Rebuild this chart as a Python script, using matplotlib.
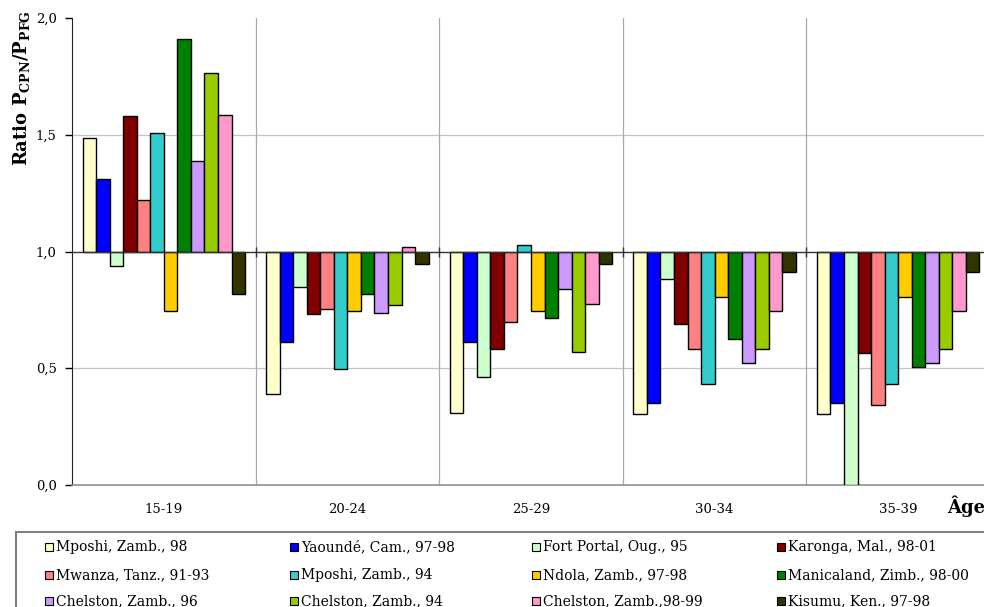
import matplotlib
matplotlib.use('Agg')
import matplotlib.pyplot as plt
from matplotlib.patches import Rectangle
import numpy as np

plt.rcParams['font.family'] = ['DejaVu Serif']
plt.rcParams['mathtext.fontset'] = 'dejavuserif'

# age groups
ages = ['15-19', '20-24', '25-29', '30-34', '35-39']

# series (ratio values per age group)
series = [
    'Mposhi, Zamb., 98', 'Yaoundé, Cam., 97-98', 'Fort Portal, Oug., 95', 'Karonga, Mal., 98-01',
    'Mwanza, Tanz., 91-93', 'Mposhi, Zamb., 94', 'Ndola, Zamb., 97-98', 'Manicaland, Zimb., 98-00',
    'Chelston, Zamb., 96', 'Chelston, Zamb., 94', 'Chelston, Zamb.,98-99', 'Kisumu, Ken., 97-98',
]
mposhi_98 = [1.485, 0.390, 0.310, 0.304, 0.304]
yaounde = [1.309, 0.611, 0.611, 0.352, 0.352]
fort_portal = [0.936, 0.848, 0.461, 0.881, 0.0]
karonga = [1.580, 0.732, 0.581, 0.688, 0.564]
mwanza = [1.220, 0.754, 0.697, 0.581, 0.343]
mposhi_94 = [1.509, 0.497, 1.026, 0.434, 0.434]
ndola = [0.745, 0.746, 0.745, 0.805, 0.805]
manicaland = [1.911, 0.818, 0.715, 0.627, 0.504]
chelston_96 = [1.389, 0.735, 0.838, 0.521, 0.521]
chelston_94 = [1.763, 0.769, 0.570, 0.581, 0.581]
chelston_9899 = [1.586, 1.018, 0.774, 0.746, 0.746]
kisumu = [0.818, 0.946, 0.946, 0.912, 0.912]
values = [mposhi_98, yaounde, fort_portal, karonga, mwanza, mposhi_94, ndola,
          manicaland, chelston_96, chelston_94, chelston_9899, kisumu]

colors = ['#FFFFCC', '#0000FF', '#CCFFCC', '#800000', '#FF8080', '#33CCCC',
          '#FFCC00', '#008000', '#CC99FF', '#99CC00', '#FF99CC', '#333300']

fig = plt.figure(figsize=(9.84, 6.07), dpi=100)
W, H = 984, 607
ax = fig.add_axes([72 / W, 1 - 485 / H, (990 - 72) / W, (485 - 18) / H])

n = len(series)
bw = 0.0738
x = np.arange(len(ages)) + 0.5
for i, (vals, c) in enumerate(zip(values, colors)):
    vals = np.array(vals)
    ax.bar(x + (i - (n - 1) / 2) * bw, vals - 1.0, width=bw, bottom=1.0,
           color=c, edgecolor='black', linewidth=1.0, zorder=3)

ax.set_xlim(0, 5)
ax.set_ylim(0, 2)
ax.set_yticks([0, 0.5, 1.0, 1.5, 2.0])
ax.set_yticklabels(['0,0', '0,5', '1,0', '1,5', '2,0'], fontsize=9.5)
ax.tick_params(axis='y', length=5, width=1, pad=6, direction='out')
ax.set_xticks(x)
ax.set_xticklabels(ages, fontsize=9.5)
ax.tick_params(axis='x', length=0, pad=13)

for yv in [0.5, 1.5]:
    ax.axhline(yv, color='#c4c4c4', linewidth=0.9, zorder=1)
for xv in range(1, 5):
    ax.axvline(xv, color='#a8a8a8', linewidth=0.9, zorder=1)
ax.axhline(1.0, color='#333333', linewidth=1.0, zorder=4)
ax.plot(range(1, 5), [1.0] * 4, linestyle='none', marker='|', markersize=7,
        color='#333333', zorder=4)

ax.spines['top'].set_visible(False)
ax.spines['right'].set_visible(False)
ax.spines['left'].set_color('#222222')
ax.spines['bottom'].set_color('#909090')
ax.spines['bottom'].set_linewidth(1.2)

fig.text(22 / W, 1 - 88 / H, r'Ratio P$_{\mathbf{CPN}}$/P$_{\mathbf{PFG}}$',
         rotation=90, ha='center', va='center', fontsize=13, fontweight='bold')
fig.text(966 / W, 1 - 506 / H, 'Âge', ha='center', va='center', fontsize=13,
         fontweight='bold')

# legend box
fig.patches.append(Rectangle((16 / W, -0.05), 1.0, (607 - 532) / H + 0.05,
                             transform=fig.transFigure, fill=False,
                             edgecolor='#808080', linewidth=1.5))
col_x = [45, 290, 532, 777]
row_y = [547, 575, 601]
for i, (name, c) in enumerate(zip(series, colors)):
    cx = col_x[i % 4]
    cy = row_y[i // 4]
    fig.patches.append(Rectangle((cx / W, 1 - (cy + 4) / H), 8 / W, 8 / H,
                                 transform=fig.transFigure, facecolor=c,
                                 edgecolor='black', linewidth=0.8))
    fig.text((cx + 11) / W, 1 - cy / H, name, ha='left', va='center', fontsize=10)

fig.savefig('out.png', dpi=100)
